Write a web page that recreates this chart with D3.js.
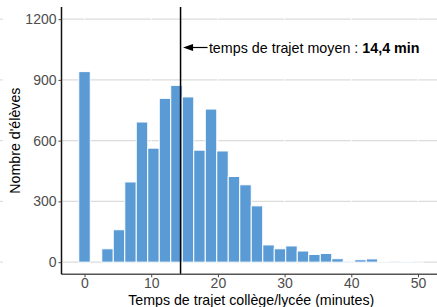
<!DOCTYPE html>
<html>
<head>
<meta charset="utf-8">
<script src="https://cdn.jsdelivr.net/npm/d3@7"></script>
<style>
  body { margin: 0; background: #fff; }
  text { font-family: "Liberation Sans", Arial, sans-serif; }
</style>
</head>
<body>
<div id="chart"></div>
<script>
// histogram data
const BIN_WIDTH = 50 / 29;
const BIN_CENTERS = [0, 1.72, 3.45, 5.17, 6.9, 8.62, 10.34, 12.07, 13.79, 15.52,
                     17.24, 18.97, 20.69, 22.41, 24.14, 25.86, 27.59, 29.31, 31.03, 32.76,
                     34.48, 36.21, 37.93, 39.66, 41.38, 43.1, 44.83, 46.55, 48.28, 50];
const COUNTS = [941, 0, 66, 160, 396, 692, 563, 809, 873, 816,
                553, 756, 549, 423, 382, 278, 85, 66, 80, 55,
                38, 43, 17, 1, 12, 16, 4, 1, 3, 1];
const MEAN_TIME = 14.4;
const X_TICKS = [0, 10, 20, 30, 40, 50];
const Y_TICKS = [0, 300, 600, 900, 1200];
const LABEL_TEXT = "temps de trajet moyen : ";
const LABEL_BOLD = "14,4 min";
const X_TITLE = "Temps de trajet collège/lycée (minutes)";
const Y_TITLE = "Nombre d'élèves";

// frame
const FRAME_WIDTH = 437;
const FRAME_HEIGHT = 307;
const PANEL = {left: 61.5, right: 441, top: 7, bottom: 274.3};

const svg = d3.select("#chart")
  .append("svg")
    .attr("width", FRAME_WIDTH)
    .attr("height", FRAME_HEIGHT);

// scales (ggplot style 5% expansion)
const X = d3.scaleLinear().domain([-3.45, 53.45]).range([PANEL.left, PANEL.right]);
const Y = d3.scaleLinear().domain([-60, 1260]).range([PANEL.bottom, PANEL.top]);

// horizontal grid
svg.append("g")
  .selectAll("line")
  .data(Y_TICKS)
  .enter()
  .append("line")
    .attr("x1", PANEL.left)
    .attr("x2", PANEL.right)
    .attr("y1", d => Y(d))
    .attr("y2", d => Y(d))
    .attr("stroke", "#dcdcdc")
    .attr("stroke-width", 1.1);

// white vertical grid breaks
svg.append("g")
  .selectAll("line")
  .data(X_TICKS)
  .enter()
  .append("line")
    .attr("x1", d => X(d))
    .attr("x2", d => X(d))
    .attr("y1", PANEL.top)
    .attr("y2", PANEL.bottom)
    .attr("stroke", "#fff")
    .attr("stroke-width", 1);

// stray grid stubs at the left edge
svg.append("g")
  .selectAll("line")
  .data(Y_TICKS)
  .enter()
  .append("line")
    .attr("x1", 0)
    .attr("x2", 3)
    .attr("y1", d => Y(d))
    .attr("y2", d => Y(d))
    .attr("stroke", "#dcdcdc")
    .attr("stroke-width", 1.1);

// bars
svg.append("g")
  .selectAll("rect")
  .data(COUNTS)
  .enter()
  .append("rect")
    .attr("x", (d, i) => X(BIN_CENTERS[i] - BIN_WIDTH / 2))
    .attr("width", X(BIN_WIDTH) - X(0))
    .attr("y", d => Y(d))
    .attr("height", d => Y(0) - Y(d))
    .attr("fill", "#5b9bd5")
    .attr("stroke", "#fff")
    .attr("stroke-width", 1);

// mean line
svg.append("line")
  .attr("x1", X(MEAN_TIME))
  .attr("x2", X(MEAN_TIME))
  .attr("y1", PANEL.top)
  .attr("y2", PANEL.bottom)
  .attr("stroke", "#000")
  .attr("stroke-width", 1.5);

// arrow + label
const ARROW_Y = Y(1060);
const tipX = X(MEAN_TIME) + 2.5;
svg.append("line")
  .attr("x1", X(18.45))
  .attr("x2", tipX + 6)
  .attr("y1", ARROW_Y)
  .attr("y2", ARROW_Y)
  .attr("stroke", "#000")
  .attr("stroke-width", 1.2);
svg.append("path")
  .attr("d", `M${tipX},${ARROW_Y} L${tipX + 10},${ARROW_Y - 3.5} L${tipX + 10},${ARROW_Y + 3.5} Z`)
  .attr("fill", "#000");

const label = svg.append("text")
  .attr("x", X(18.65))
  .attr("y", ARROW_Y + 5)
  .attr("font-size", 14.3)
  .attr("fill", "#000");
label.append("tspan").text(LABEL_TEXT);
label.append("tspan").attr("font-weight", "bold").text(LABEL_BOLD);

// axes
const xAxis = svg.append("g")
  .attr("transform", `translate(0,${PANEL.bottom})`)
  .call(d3.axisBottom(X).tickValues(X_TICKS).tickSize(3).tickPadding(1));
const yAxis = svg.append("g")
  .attr("transform", `translate(${PANEL.left},0)`)
  .call(d3.axisLeft(Y).tickValues(Y_TICKS).tickFormat(d3.format("d")).tickSize(3).tickPadding(2));

xAxis.select(".domain").attr("stroke", "#555").attr("stroke-width", 1.6)
  .attr("d", `M${PANEL.left},0H${PANEL.right}`);
yAxis.select(".domain").attr("stroke", "#111").attr("stroke-width", 1.5)
  .attr("d", `M0,${PANEL.top}V${PANEL.bottom}`);
svg.selectAll(".tick line").attr("stroke", "#444");
svg.selectAll(".tick text")
  .attr("fill", "#4d4d4d")
  .attr("font-size", 14)
  .attr("font-family", "Liberation Sans, Arial, sans-serif");

// titles
svg.append("text")
  .attr("x", (PANEL.left + PANEL.right) / 2)
  .attr("y", 304.5)
  .attr("text-anchor", "middle")
  .attr("font-size", 14.2)
  .attr("fill", "#000")
  .text(X_TITLE);

svg.append("text")
  .attr("transform", `translate(20,${(PANEL.top + PANEL.bottom) / 2}) rotate(-90)`)
  .attr("text-anchor", "middle")
  .attr("font-size", 14.2)
  .attr("fill", "#000")
  .text(Y_TITLE);
</script>
</body>
</html>
